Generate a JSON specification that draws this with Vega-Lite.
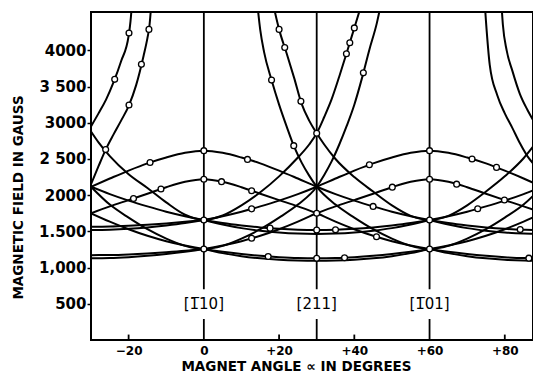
{
 "$schema": "https://vega.github.io/schema/vega-lite/v6.json",
 "width": 442,
 "height": 328,
 "autosize": {"type": "none"},
 "padding": {"left": 91, "top": 12, "right": 0, "bottom": 34},
 "background": "white",
 "config": {"view": {"stroke": "black", "strokeWidth": 2}, "font": "DejaVu Sans"},
 "datasets": {
  "curves": [
   {"c":"c1","a":-30,"b":2117},{"c":"c1","a":-25,"b":2230},{"c":"c1","a":-20,"b":2340},{"c":"c1","a":-15,"b":2440},{"c":"c1","a":-10,"b":2520},{"c":"c1","a":-5,"b":2585},{"c":"c1","a":0,"b":2615},{"c":"c1","a":5,"b":2585},{"c":"c1","a":10,"b":2520},{"c":"c1","a":15,"b":2440},{"c":"c1","a":20,"b":2340},{"c":"c1","a":25,"b":2230},{"c":"c1","a":30,"b":2117},{"c":"c1","a":35,"b":2015},{"c":"c1","a":40,"b":1925},{"c":"c1","a":45,"b":1845},{"c":"c1","a":50,"b":1772},{"c":"c1","a":55,"b":1710},{"c":"c1","a":60,"b":1657},{"c":"c1","a":65,"b":1615},{"c":"c1","a":70,"b":1582},{"c":"c1","a":75,"b":1555},{"c":"c1","a":80,"b":1535},{"c":"c1","a":85,"b":1523},{"c":"c1","a":87.5,"b":1520},
   {"c":"c2","a":-30,"b":2117},{"c":"c2","a":-25,"b":2015},{"c":"c2","a":-20,"b":1925},{"c":"c2","a":-15,"b":1845},{"c":"c2","a":-10,"b":1772},{"c":"c2","a":-5,"b":1710},{"c":"c2","a":0,"b":1657},{"c":"c2","a":5,"b":1615},{"c":"c2","a":10,"b":1582},{"c":"c2","a":15,"b":1555},{"c":"c2","a":20,"b":1535},{"c":"c2","a":25,"b":1523},{"c":"c2","a":30,"b":1519},{"c":"c2","a":35,"b":1523},{"c":"c2","a":40,"b":1535},{"c":"c2","a":45,"b":1555},{"c":"c2","a":50,"b":1582},{"c":"c2","a":55,"b":1615},{"c":"c2","a":60,"b":1657},{"c":"c2","a":65,"b":1710},{"c":"c2","a":70,"b":1772},{"c":"c2","a":75,"b":1845},{"c":"c2","a":80,"b":1925},{"c":"c2","a":85,"b":2015},{"c":"c2","a":87.5,"b":2065},
   {"c":"c3","a":-30,"b":1519},{"c":"c3","a":-25,"b":1523},{"c":"c3","a":-20,"b":1535},{"c":"c3","a":-15,"b":1555},{"c":"c3","a":-10,"b":1582},{"c":"c3","a":-5,"b":1615},{"c":"c3","a":0,"b":1657},{"c":"c3","a":5,"b":1710},{"c":"c3","a":10,"b":1772},{"c":"c3","a":15,"b":1845},{"c":"c3","a":20,"b":1925},{"c":"c3","a":25,"b":2015},{"c":"c3","a":30,"b":2117},{"c":"c3","a":35,"b":2230},{"c":"c3","a":40,"b":2340},{"c":"c3","a":45,"b":2440},{"c":"c3","a":50,"b":2520},{"c":"c3","a":55,"b":2585},{"c":"c3","a":60,"b":2615},{"c":"c3","a":65,"b":2585},{"c":"c3","a":70,"b":2520},{"c":"c3","a":75,"b":2440},{"c":"c3","a":80,"b":2340},{"c":"c3","a":85,"b":2230},{"c":"c3","a":87.5,"b":2173},
   {"c":"c4","a":-30,"b":1750},{"c":"c4","a":-25,"b":1845},{"c":"c4","a":-20,"b":1932},{"c":"c4","a":-15,"b":2020},{"c":"c4","a":-10,"b":2110},{"c":"c4","a":-5,"b":2185},{"c":"c4","a":0,"b":2220},{"c":"c4","a":5,"b":2185},{"c":"c4","a":10,"b":2110},{"c":"c4","a":15,"b":2020},{"c":"c4","a":20,"b":1932},{"c":"c4","a":25,"b":1845},{"c":"c4","a":30,"b":1750},{"c":"c4","a":35,"b":1635},{"c":"c4","a":40,"b":1530},{"c":"c4","a":45,"b":1440},{"c":"c4","a":50,"b":1365},{"c":"c4","a":55,"b":1305},{"c":"c4","a":60,"b":1257},{"c":"c4","a":65,"b":1218},{"c":"c4","a":70,"b":1187},{"c":"c4","a":75,"b":1162},{"c":"c4","a":80,"b":1143},{"c":"c4","a":85,"b":1131},{"c":"c4","a":87.5,"b":1129},
   {"c":"c5","a":-30,"b":1750},{"c":"c5","a":-25,"b":1635},{"c":"c5","a":-20,"b":1530},{"c":"c5","a":-15,"b":1440},{"c":"c5","a":-10,"b":1365},{"c":"c5","a":-5,"b":1305},{"c":"c5","a":0,"b":1257},{"c":"c5","a":5,"b":1218},{"c":"c5","a":10,"b":1187},{"c":"c5","a":15,"b":1162},{"c":"c5","a":20,"b":1143},{"c":"c5","a":25,"b":1131},{"c":"c5","a":30,"b":1128},{"c":"c5","a":35,"b":1131},{"c":"c5","a":40,"b":1143},{"c":"c5","a":45,"b":1162},{"c":"c5","a":50,"b":1187},{"c":"c5","a":55,"b":1218},{"c":"c5","a":60,"b":1257},{"c":"c5","a":65,"b":1305},{"c":"c5","a":70,"b":1365},{"c":"c5","a":75,"b":1440},{"c":"c5","a":80,"b":1530},{"c":"c5","a":85,"b":1635},{"c":"c5","a":87.5,"b":1692},
   {"c":"c6","a":-30,"b":1128},{"c":"c6","a":-25,"b":1131},{"c":"c6","a":-20,"b":1143},{"c":"c6","a":-15,"b":1162},{"c":"c6","a":-10,"b":1187},{"c":"c6","a":-5,"b":1218},{"c":"c6","a":0,"b":1257},{"c":"c6","a":5,"b":1305},{"c":"c6","a":10,"b":1365},{"c":"c6","a":15,"b":1440},{"c":"c6","a":20,"b":1530},{"c":"c6","a":25,"b":1635},{"c":"c6","a":30,"b":1750},{"c":"c6","a":35,"b":1845},{"c":"c6","a":40,"b":1932},{"c":"c6","a":45,"b":2020},{"c":"c6","a":50,"b":2110},{"c":"c6","a":55,"b":2185},{"c":"c6","a":60,"b":2220},{"c":"c6","a":65,"b":2185},{"c":"c6","a":70,"b":2110},{"c":"c6","a":75,"b":2020},{"c":"c6","a":80,"b":1932},{"c":"c6","a":85,"b":1845},{"c":"c6","a":87.5,"b":1800},
   {"c":"c7","a":-30,"b":2880},{"c":"c7","a":-28,"b":2730},{"c":"c7","a":-25,"b":2540},{"c":"c7","a":-20,"b":2290},{"c":"c7","a":-15,"b":2100},{"c":"c7","a":-10,"b":1900},{"c":"c7","a":-5,"b":1730},{"c":"c7","a":0,"b":1660},{"c":"c7","a":5,"b":1720},{"c":"c7","a":10,"b":1860},{"c":"c7","a":15,"b":2040},{"c":"c7","a":20,"b":2260},{"c":"c7","a":25,"b":2520},{"c":"c7","a":28,"b":2700},{"c":"c7","a":30,"b":2855},{"c":"c7","a":32,"b":3080},{"c":"c7","a":34,"b":3330},{"c":"c7","a":36,"b":3640},{"c":"c7","a":38,"b":3970},{"c":"c7","a":40,"b":4310},{"c":"c7","a":42,"b":4650},
   {"c":"c8a","a":-30,"b":2950},{"c":"c8a","a":-28,"b":3130},{"c":"c8a","a":-26,"b":3320},{"c":"c8a","a":-24,"b":3560},{"c":"c8a","a":-22,"b":3850},{"c":"c8a","a":-20,"b":4200},{"c":"c8a","a":-19.5,"b":4400},{"c":"c8a","a":-19.1,"b":4650},
   {"c":"c8b","a":79.1,"b":4650},{"c":"c8b","a":79.5,"b":4350},{"c":"c8b","a":80.5,"b":4000},{"c":"c8b","a":82,"b":3720},{"c":"c8b","a":84,"b":3400},{"c":"c8b","a":86,"b":3180},{"c":"c8b","a":87.5,"b":3040},
   {"c":"c9","a":18.5,"b":4620},{"c":"c9","a":20,"b":4290},{"c":"c9","a":22,"b":3960},{"c":"c9","a":24,"b":3620},{"c":"c9","a":26,"b":3260},{"c":"c9","a":28,"b":3030},{"c":"c9","a":30,"b":2855},{"c":"c9","a":32,"b":2700},{"c":"c9","a":35,"b":2500},{"c":"c9","a":40,"b":2250},{"c":"c9","a":45,"b":2050},{"c":"c9","a":50,"b":1860},{"c":"c9","a":55,"b":1715},{"c":"c9","a":60,"b":1660},{"c":"c9","a":65,"b":1715},{"c":"c9","a":70,"b":1860},{"c":"c9","a":75,"b":2050},{"c":"c9","a":80,"b":2260},{"c":"c9","a":85,"b":2510},{"c":"c9","a":87.5,"b":2670},
   {"c":"c10","a":-30,"b":2117},{"c":"c10","a":-25,"b":1870},{"c":"c10","a":-20,"b":1690},{"c":"c10","a":-15,"b":1530},{"c":"c10","a":-10,"b":1400},{"c":"c10","a":-5,"b":1300},{"c":"c10","a":0,"b":1257},{"c":"c10","a":5,"b":1300},{"c":"c10","a":10,"b":1400},{"c":"c10","a":15,"b":1530},{"c":"c10","a":20,"b":1690},{"c":"c10","a":25,"b":1870},{"c":"c10","a":30,"b":2117},{"c":"c10","a":32,"b":2280},{"c":"c10","a":34,"b":2470},{"c":"c10","a":36,"b":2700},{"c":"c10","a":38,"b":2960},{"c":"c10","a":40,"b":3250},{"c":"c10","a":42,"b":3610},{"c":"c10","a":44,"b":4010},{"c":"c10","a":46,"b":4380},{"c":"c10","a":47,"b":4620},
   {"c":"c11a","a":-30,"b":2150},{"c":"c11a","a":-28,"b":2400},{"c":"c11a","a":-26,"b":2640},{"c":"c11a","a":-24,"b":2840},{"c":"c11a","a":-22,"b":3030},{"c":"c11a","a":-20,"b":3230},{"c":"c11a","a":-18,"b":3520},{"c":"c11a","a":-16,"b":3930},{"c":"c11a","a":-15,"b":4170},{"c":"c11a","a":-14.5,"b":4320},{"c":"c11a","a":-14,"b":4620},
   {"c":"c11b","a":74.6,"b":4700},{"c":"c11b","a":75,"b":4400},{"c":"c11b","a":76,"b":3800},{"c":"c11b","a":78,"b":3380},{"c":"c11b","a":80,"b":3130},{"c":"c11b","a":82,"b":2930},{"c":"c11b","a":84,"b":2720},{"c":"c11b","a":86,"b":2540},{"c":"c11b","a":87.5,"b":2440},
   {"c":"c12","a":14.2,"b":4650},{"c":"c12","a":15,"b":4280},{"c":"c12","a":16,"b":3980},{"c":"c12","a":18,"b":3590},{"c":"c12","a":20,"b":3250},{"c":"c12","a":22,"b":2950},{"c":"c12","a":24,"b":2670},{"c":"c12","a":26,"b":2450},{"c":"c12","a":28,"b":2270},{"c":"c12","a":30,"b":2117},{"c":"c12","a":35,"b":1870},{"c":"c12","a":40,"b":1690},{"c":"c12","a":45,"b":1530},{"c":"c12","a":50,"b":1400},{"c":"c12","a":55,"b":1300},{"c":"c12","a":60,"b":1257},{"c":"c12","a":65,"b":1300},{"c":"c12","a":70,"b":1400},{"c":"c12","a":75,"b":1530},{"c":"c12","a":80,"b":1690},{"c":"c12","a":85,"b":1870},{"c":"c12","a":87.5,"b":1990},
   {"c":"d1","a":0,"b":1657},{"c":"d1","a":5,"b":1595},{"c":"d1","a":10,"b":1545},{"c":"d1","a":15,"b":1510},{"c":"d1","a":20,"b":1485},{"c":"d1","a":25,"b":1470},{"c":"d1","a":30,"b":1465},{"c":"d1","a":35,"b":1470},{"c":"d1","a":40,"b":1485},{"c":"d1","a":45,"b":1510},{"c":"d1","a":50,"b":1545},{"c":"d1","a":55,"b":1595},{"c":"d1","a":60,"b":1657},
   {"c":"d2","a":-30,"b":1565},{"c":"d2","a":-25,"b":1568},{"c":"d2","a":-20,"b":1578},{"c":"d2","a":-15,"b":1592},{"c":"d2","a":-10,"b":1610},{"c":"d2","a":-5,"b":1632},{"c":"d2","a":0,"b":1657},
   {"c":"d3","a":60,"b":1657},{"c":"d3","a":65,"b":1595},{"c":"d3","a":70,"b":1545},{"c":"d3","a":75,"b":1510},{"c":"d3","a":80,"b":1485},{"c":"d3","a":85,"b":1470},{"c":"d3","a":87.5,"b":1466},
   {"c":"d4","a":0,"b":1257},{"c":"d4","a":5,"b":1200},{"c":"d4","a":10,"b":1158},{"c":"d4","a":15,"b":1128},{"c":"d4","a":20,"b":1108},{"c":"d4","a":25,"b":1098},{"c":"d4","a":30,"b":1095},{"c":"d4","a":35,"b":1098},{"c":"d4","a":40,"b":1108},{"c":"d4","a":45,"b":1128},{"c":"d4","a":50,"b":1158},{"c":"d4","a":55,"b":1200},{"c":"d4","a":60,"b":1257},
   {"c":"d5","a":-30,"b":1172},{"c":"d5","a":-25,"b":1174},{"c":"d5","a":-20,"b":1182},{"c":"d5","a":-15,"b":1195},{"c":"d5","a":-10,"b":1212},{"c":"d5","a":-5,"b":1232},{"c":"d5","a":0,"b":1257},
   {"c":"d6","a":60,"b":1257},{"c":"d6","a":65,"b":1200},{"c":"d6","a":70,"b":1158},{"c":"d6","a":75,"b":1128},{"c":"d6","a":80,"b":1108},{"c":"d6","a":85,"b":1098},{"c":"d6","a":87.5,"b":1096}
  ],
  "pts": [
   {"a":0,"b":2615},{"a":0,"b":2220},{"a":0,"b":1657},{"a":0,"b":1257},{"a":4.7,"b":2187},{"a":11.6,"b":2494},{"a":12.7,"b":2061},{"a":12.7,"b":1811},{"a":12.7,"b":1405},{"a":17.6,"b":1545},{"a":17.1,"b":1154},
   {"a":30,"b":2855},{"a":30,"b":1750},{"a":30,"b":1519},{"a":30,"b":1128},{"a":35,"b":1522},{"a":37.4,"b":1136},{"a":45,"b":1845},{"a":45.9,"b":1426},{"a":44,"b":2420},{"a":50.1,"b":2111},
   {"a":60,"b":2615},{"a":60,"b":2220},{"a":60,"b":1657},{"a":60,"b":1257},{"a":67.2,"b":2152},{"a":71.3,"b":2499},{"a":77.8,"b":2384},{"a":72.8,"b":1813},{"a":79.9,"b":1933},{"a":84.1,"b":1525},{"a":86.4,"b":1130},
   {"a":-14.3,"b":2451},{"a":-11.4,"b":2085},{"a":-18.7,"b":1955},
   {"a":-23.7,"b":3600},{"a":-19.9,"b":4240},{"a":-26.1,"b":2630},{"a":-19.9,"b":3245},{"a":-16.6,"b":3807},{"a":-14.6,"b":4290},
   {"a":18,"b":3590},{"a":23.9,"b":2684},{"a":20,"b":4290},{"a":21.5,"b":4040},{"a":25.8,"b":3296},{"a":40,"b":4310},{"a":38.8,"b":4106},{"a":37.9,"b":3953},{"a":42.4,"b":3690}
  ],
  "rules": [
   {"a":0,"b":0,"b2":290},{"a":0,"b":700,"b2":4530},
   {"a":30,"b":0,"b2":290},{"a":30,"b":700,"b2":4530},
   {"a":60,"b":0,"b2":290},{"a":60,"b":700,"b2":4530},
   {"a":-20,"b":0,"b2":75},{"a":20,"b":0,"b2":75},{"a":40,"b":0,"b2":75},{"a":80,"b":0,"b2":75}
  ],
  "labels": [
   {"a":0,"b":495,"t":"[1\u030510]"},
   {"a":30,"b":495,"t":"[211]"},
   {"a":60,"b":495,"t":"[1\u030501]"}
  ]
 },
 "encoding": {
  "x": {"field": "a", "type": "quantitative",
   "scale": {"domain": [-30, 87.5], "nice": false, "zero": false},
   "axis": {"values": [-20, 0, 20, 40, 60, 80], "format": "d",
    "labelExpr": "datum.value > 0 ? '+' + datum.label : datum.label",
    "grid": false, "domain": false, "ticks": false, "labelPadding": 5,
    "labelFont": "DejaVu Sans", "labelFontSize": 12, "labelFontWeight": "bold", "labelColor": "black",
    "title": "MAGNET ANGLE \u221d IN DEGREES", "titleFont": "DejaVu Sans", "titleFontSize": 13.5, "titleFontWeight": "bold", "titleColor": "black",
    "titleX": 205, "titleY": 30, "titleAlign": "center", "titleBaseline": "alphabetic"}},
  "y": {"field": "b", "type": "quantitative",
   "scale": {"domain": [0, 4530], "nice": false, "zero": false},
   "axis": {"values": [500, 1000, 1500, 2000, 2500, 3000, 3500, 4000], "format": "d",
    "labelExpr": "datum.value == 3500 ? '3 500' : datum.value == 2500 ? '2 500' : datum.value == 1500 ? '1.500' : datum.value == 1000 ? '1,000' : datum.label",
    "grid": false, "domain": false, "ticks": true, "tickSize": 4, "tickWidth": 1.5, "tickColor": "black", "labelPadding": 1,
    "labelFont": "DejaVu Sans", "labelFontSize": 15, "labelFontWeight": "bold", "labelColor": "black",
    "title": "MAGNETIC FIELD IN GAUSS", "titleFont": "DejaVu Sans", "titleFontSize": 13.5, "titleFontWeight": "bold", "titleColor": "black",
    "titleX": -73, "titleY": 185, "titleAngle": 270, "titleAlign": "center", "titleBaseline": "middle"}}
 },
 "layer": [
  {"data": {"name": "curves"},
   "mark": {"type": "line", "interpolate": "monotone", "color": "black", "strokeWidth": 2, "clip": true},
   "encoding": {"detail": {"field": "c", "type": "nominal"}}},
  {"data": {"name": "rules"},
   "mark": {"type": "rule", "color": "black", "strokeWidth": 1.8},
   "encoding": {"y2": {"field": "b2"}}},
  {"data": {"name": "pts"},
   "mark": {"type": "circle", "fill": "white", "stroke": "black", "strokeWidth": 1.3, "size": 34, "opacity": 1}},
  {"data": {"name": "labels"},
   "mark": {"type": "text", "font": "DejaVu Sans", "fontSize": 15, "fontWeight": "normal", "color": "black", "baseline": "middle", "align": "center"},
   "encoding": {"text": {"field": "t", "type": "nominal"}}}
 ]
}
